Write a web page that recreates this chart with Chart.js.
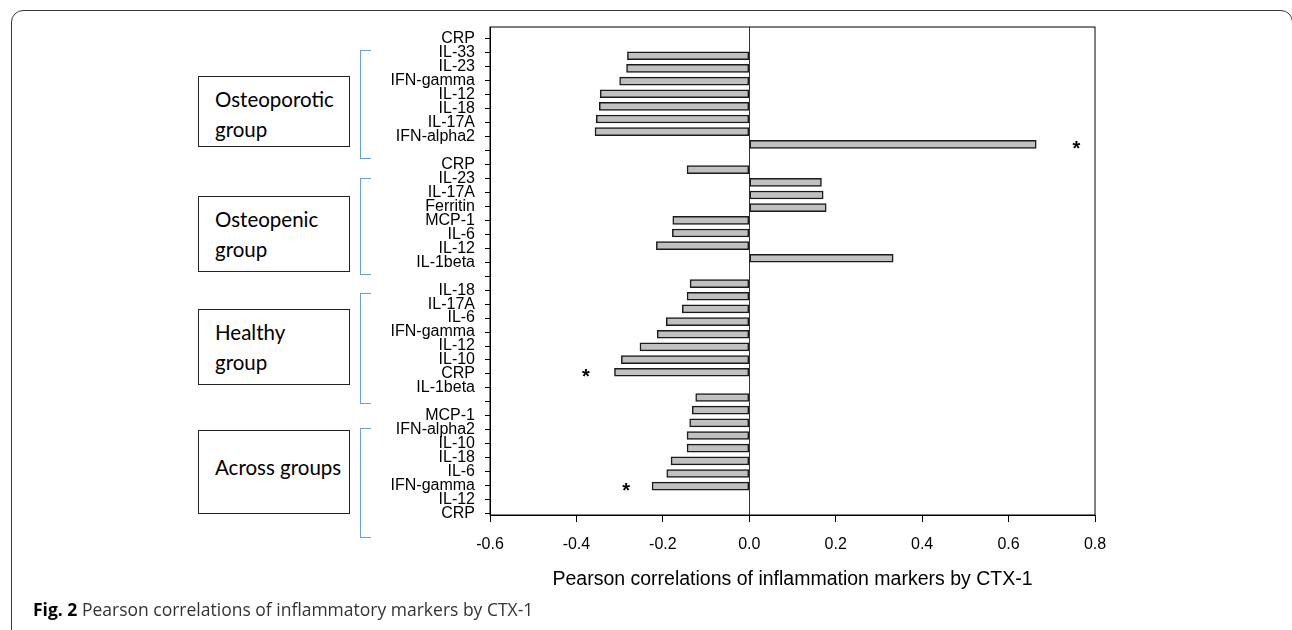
<!DOCTYPE html>
<html>
<head>
<meta charset="utf-8">
<script src="https://cdn.jsdelivr.net/npm/chart.js@4.4.1/dist/chart.umd.min.js"></script>
<style>
  html, body { margin: 0; padding: 0; background: #fff; overflow: hidden; }
  #wrap { position: absolute; left: 0; top: 0; width: 1292px; height: 630px; }
  .frame { position: absolute; left: 11px; top: 10px; width: 1282px; height: 700px;
    box-sizing: border-box; border: 1.5px solid #3a3a3a; border-radius: 12px; }
  .grp { position: absolute; left: 198px; width: 152px; box-sizing: border-box;
    border: 1px solid #222; background: #fff; padding: 7px 0 0 16px;
    font-family: Lato, 'Open Sans', sans-serif; font-size: 20.5px; line-height: 30px; color: #000; }
  .brk { position: absolute; left: 360px; width: 11px; box-sizing: border-box;
    border: 1px solid #6a9fd8; border-right: none; }
  .caption { position: absolute; left: 33px; top: 598px; font-family: 'Open Sans', sans-serif;
    font-size: 17.5px; line-height: 22px; color: #333; }
  .caption b { color: #000; }
</style>
</head>
<body>
<div class="frame"></div>
<div id="wrap"><canvas id="corrChart"></canvas></div>
<div id="notes"></div>
<div class="caption"><b>Fig. 2</b> Pearson correlations of inflammatory markers by CTX-1</div>
<script>
// groups, top to bottom
const groupNames = ['Osteoporotic group', 'Osteopenic group', 'Healthy group', 'Across groups'];

// marker labels as printed on the y axis (8 per group)
const osteoporoticMarkers = ['CRP', 'IL-33', 'IL-23', 'IFN-gamma', 'IL-12', 'IL-18', 'IL-17A', 'IFN-alpha2'];
const osteopenicMarkers = ['CRP', 'IL-23', 'IL-17A', 'Ferritin', 'MCP-1', 'IL-6', 'IL-12', 'IL-1beta'];
const healthyMarkers = ['IL-18', 'IL-17A', 'IL-6', 'IFN-gamma', 'IL-12', 'IL-10', 'CRP', 'IL-1beta'];
const acrossMarkers = ['MCP-1', 'IFN-alpha2', 'IL-10', 'IL-18', 'IL-6', 'IFN-gamma', 'IL-12', 'CRP'];

// Pearson r, bar order top to bottom
const osteoporoticR = [-0.282, -0.284, -0.300, -0.345, -0.347, -0.354, -0.357, 0.664];
const osteopenicR = [-0.144, 0.167, 0.171, 0.178, -0.177, -0.178, -0.215, 0.333];
const healthyR = [-0.137, -0.144, -0.155, -0.192, -0.213, -0.253, -0.296, -0.312];
const acrossR = [-0.124, -0.132, -0.138, -0.144, -0.144, -0.181, -0.191, -0.225];

// significance stars: group, bar, x position (r units)
const starGroup = [0, 2, 3];
const starBar = [7, 7, 7];
const starX = [0.757, -0.378, -0.285];

const xTicks = [-0.6, -0.4, -0.2, 0.0, 0.2, 0.4, 0.6, 0.8];

const markerLists = [osteoporoticMarkers, osteopenicMarkers, healthyMarkers, acrossMarkers];
const valueLists = [osteoporoticR, osteopenicR, healthyR, acrossR];

// one empty slot between groups
const SLOT = 9;
const barPoints = [];
valueLists.forEach((vals, g) => vals.forEach((v, i) => barPoints.push({ x: v, y: g * SLOT + i })));

const labelSlots = [];
const labelText = {};
markerLists.forEach((names, g) => {
  names.forEach((n, i) => { labelSlots.push(g * SLOT + i); labelText[g * SLOT + i] = n; });
  if (g < markerLists.length - 1) labelSlots.push(g * SLOT + 8);
});
labelSlots.sort((a, b) => a - b);

// side boxes + brackets (figure annotations)
const boxTops = [76, 196, 309, 430];
const boxHeights = [71, 76, 76, 84];
const brkTops = [50, 178, 293, 428];
const brkHeights = [109, 97, 111, 110];
const notes = document.getElementById('notes');
groupNames.forEach((name, g) => {
  const b = document.createElement('div');
  b.className = 'grp';
  b.style.top = boxTops[g] + 'px';
  b.style.height = boxHeights[g] + 'px';
  if (g === 3) b.style.paddingTop = '21px';
  b.innerHTML = g === 3 ? name : name.replace(' ', '<br>');
  notes.appendChild(b);
  const k = document.createElement('div');
  k.className = 'brk';
  k.style.top = brkTops[g] + 'px';
  k.style.height = brkHeights[g] + 'px';
  notes.appendChild(k);
});

const frameAndStars = {
  id: 'frameAndStars',
  afterDraw(chart) {
    const { ctx, chartArea: a, scales } = chart;
    ctx.save();
    ctx.strokeStyle = '#000';
    ctx.lineWidth = 1;
    ctx.strokeRect(a.left, a.top, a.right - a.left, a.bottom - a.top);
    ctx.fillStyle = '#000';
    ctx.font = 'bold 20px "Liberation Sans", Arial, sans-serif';
    ctx.textAlign = 'center';
    ctx.textBaseline = 'middle';
    starX.forEach((sx, i) => {
      const px = scales.x.getPixelForValue(sx);
      const py = scales.y.getPixelForValue(starGroup[i] * SLOT + starBar[i]);
      ctx.fillText('*', px, py + 5);
    });
    ctx.restore();
  }
};

new Chart(document.getElementById('corrChart'), {
  type: 'bar',
  data: {
    datasets: [{
      data: barPoints,
      backgroundColor: '#c0c0c0',
      borderColor: '#1a1a1a',
      borderWidth: 1.5,
      borderSkipped: false,
      barThickness: 8
    }]
  },
  options: {
    indexAxis: 'y',
    responsive: true,
    maintainAspectRatio: false,
    animation: false,
    layout: { padding: { top: 27, right: 197, bottom: 0, left: 0 } },
    plugins: { legend: { display: false }, tooltip: { enabled: false } },
    scales: {
      x: {
        type: 'linear',
        min: -0.6,
        max: 0.8,
        offset: false,
        afterBuildTicks: s => { s.ticks = xTicks.map(v => ({ value: v })); },
        afterFit: s => { s.height = 115; },
        grid: {
          offset: false,
          color: c => (c.tick && Math.abs(c.tick.value) < 1e-9 ? '#333' : 'rgba(0,0,0,0)'),
          tickColor: '#000',
          tickLength: 7
        },
        border: { display: true, color: '#000', width: 1 },
        ticks: {
          callback: v => Number(v).toFixed(1),
          color: '#000',
          padding: 13,
          font: { family: '"Liberation Sans", Arial, sans-serif', size: 16 }
        },
        title: {
          display: true,
          text: 'Pearson correlations of inflammation markers by CTX-1',
          color: '#000',
          padding: { top: 0, bottom: 39 },
          font: { family: '"Liberation Sans", Arial, sans-serif', size: 19.5 }
        }
      },
      y: {
        type: 'linear',
        display: false,
        reverse: true,
        offset: false,
        grid: { offset: false },
        min: -2.27,
        max: 36.28
      },
      y2: {
        type: 'linear',
        position: 'left',
        reverse: true,
        offset: false,
        min: -0.84,
        max: 34.1,
        afterBuildTicks: s => { s.ticks = labelSlots.map(v => ({ value: v })); },
        afterFit: s => { s.width = 490; },
        grid: { offset: false, drawOnChartArea: false, color: '#000', tickLength: 5 },
        border: { display: true, color: '#000', width: 1 },
        ticks: {
          autoSkip: false,
          callback: v => labelText[v] || '',
          color: '#000',
          padding: 10,
          font: { family: '"Liberation Sans", Arial, sans-serif', size: 16 }
        }
      }
    }
  },
  plugins: [frameAndStars]
});
</script>
</body>
</html>
